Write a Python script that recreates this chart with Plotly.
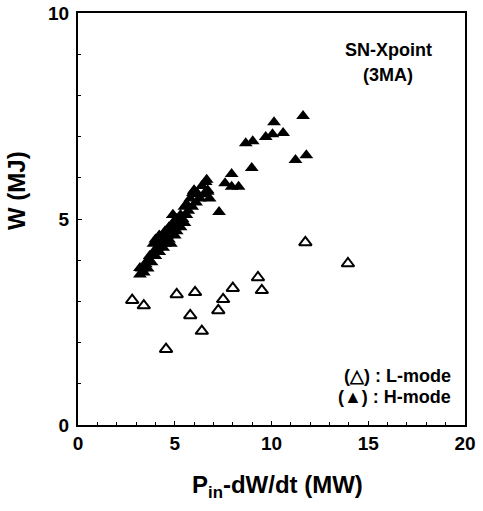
import plotly.graph_objects as go

# L-mode (open triangles)
l_x = [2.8, 3.4, 5.1, 6.05, 5.8, 6.4, 4.55, 7.5, 7.25, 8.0, 9.3, 9.5, 11.75, 13.95]
l_y = [3.03, 2.9, 3.17, 3.22, 2.66, 2.28, 1.84, 3.05, 2.78, 3.32, 3.58, 3.27, 4.43, 3.92]

# H-mode (filled triangles)
h_x = [11.63, 10.13, 10.6, 10.05, 9.7, 9.03, 8.67, 11.24, 11.8, 8.98, 7.94, 7.6, 8.3, 7.94,
       6.65, 6.7, 5.99, 5.94, 7.29, 5.63, 4.91, 3.2,
       3.2, 3.3, 3.4, 3.5, 3.6, 3.6, 3.7, 3.8, 3.9, 3.9, 4.0, 4.0, 4.1, 4.2, 4.2, 4.3, 4.4,
       4.4, 4.5, 4.5, 4.6, 4.7, 4.7, 4.8, 4.8, 4.9, 4.9, 5.0, 5.0, 5.1, 5.1, 5.2, 5.3, 5.3,
       5.4, 5.5, 5.5, 5.6, 5.6, 5.7, 5.8, 5.9, 6.0, 6.1, 6.2, 6.3, 6.4, 6.5, 6.6, 6.7, 6.8]
h_y = [7.5, 7.35, 7.09, 7.06, 6.99, 6.89, 6.84, 6.43, 6.55, 6.24, 6.09, 5.87, 5.78, 5.78,
       5.95, 5.66, 5.68, 5.63, 5.17, 5.34, 5.10, 3.81,
       3.65, 3.8, 3.7, 3.9, 4.0, 3.8, 4.1, 3.95, 4.2, 4.4, 4.1, 4.5, 4.3, 4.2, 4.6, 4.4, 4.5,
       4.3, 4.7, 4.4, 4.6, 4.5, 4.8, 4.7, 4.4, 4.9, 5.1, 4.6, 4.8, 5.0, 4.7, 4.9, 5.1, 4.8,
       5.0, 5.3, 4.9, 5.1, 5.35, 5.2, 5.5, 5.3, 5.7, 5.4, 5.6, 5.5, 5.8, 5.6, 5.9, 5.7, 5.5]

x_ticks = [0, 5, 10, 15, 20]
y_ticks = [0, 5, 10]

FONT = "Liberation Sans, Arial, sans-serif"

fig = go.Figure()
fig.add_trace(go.Scatter(x=l_x, y=l_y, mode="markers",
                         marker=dict(symbol="triangle-up-open", size=11, color="black",
                                     line=dict(width=2, color="black")),
                         showlegend=False))
fig.add_trace(go.Scatter(x=h_x, y=h_y, mode="markers",
                         marker=dict(symbol="triangle-up", size=12, color="black",
                                     line=dict(width=0)),
                         showlegend=False))

axis_common = dict(showline=True, linecolor="black", linewidth=2, mirror=True,
                   ticks="inside", ticklen=4, tickwidth=1, tickcolor="black",
                   showgrid=False, zeroline=False, automargin=False,
                   tickfont=dict(family=FONT, size=19, color="black", weight="bold"),
                   minor=dict(ticks="inside", ticklen=3, dtick=1, tickcolor="black"))

fig.update_xaxes(range=[0, 20], tickvals=x_ticks, ticktext=[str(v) for v in x_ticks],
                 ticklabelstandoff=0, **axis_common)
fig.update_yaxes(range=[0, 10], tickvals=y_ticks, ticktext=[str(v) for v in y_ticks],
                 ticklabelstandoff=3, **axis_common)

title_font = dict(family=FONT, size=24, color="black", weight="bold")
fig.add_annotation(xref="paper", yref="paper", x=0.5, y=0, xanchor="center", yanchor="top",
                   xshift=6, yshift=-44, text="P<sub>in</sub>-dW/dt (MW)",
                   showarrow=False, font=title_font)
fig.add_annotation(xref="paper", yref="y", x=0, y=5.68, xanchor="center", yanchor="middle",
                   xshift=-61, text="W (MJ)", textangle=-90,
                   showarrow=False, font=title_font)

ann_font = dict(family=FONT, size=18, color="black", weight="bold")
fig.add_annotation(x=16.07, y=9.1, text="SN-Xpoint", showarrow=False, font=ann_font)
fig.add_annotation(x=16.0, y=8.5, text="(3MA)", showarrow=False, font=ann_font)
fig.add_annotation(x=19.4, y=1.19, text="(\u25b3) : L-mode", showarrow=False,
                   xanchor="right", font=ann_font)
fig.add_annotation(x=19.4, y=0.68, text="(\u25b2) : H-mode", showarrow=False,
                   xanchor="right", font=ann_font)

fig.update_layout(width=483, height=511, plot_bgcolor="white", paper_bgcolor="white",
                  margin=dict(l=78, r=18, t=13, b=86))

fig.write_html("out.html", config={"displayModeBar": False},
               post_script="document.body.style.margin='0';document.body.style.overflow='hidden';")
